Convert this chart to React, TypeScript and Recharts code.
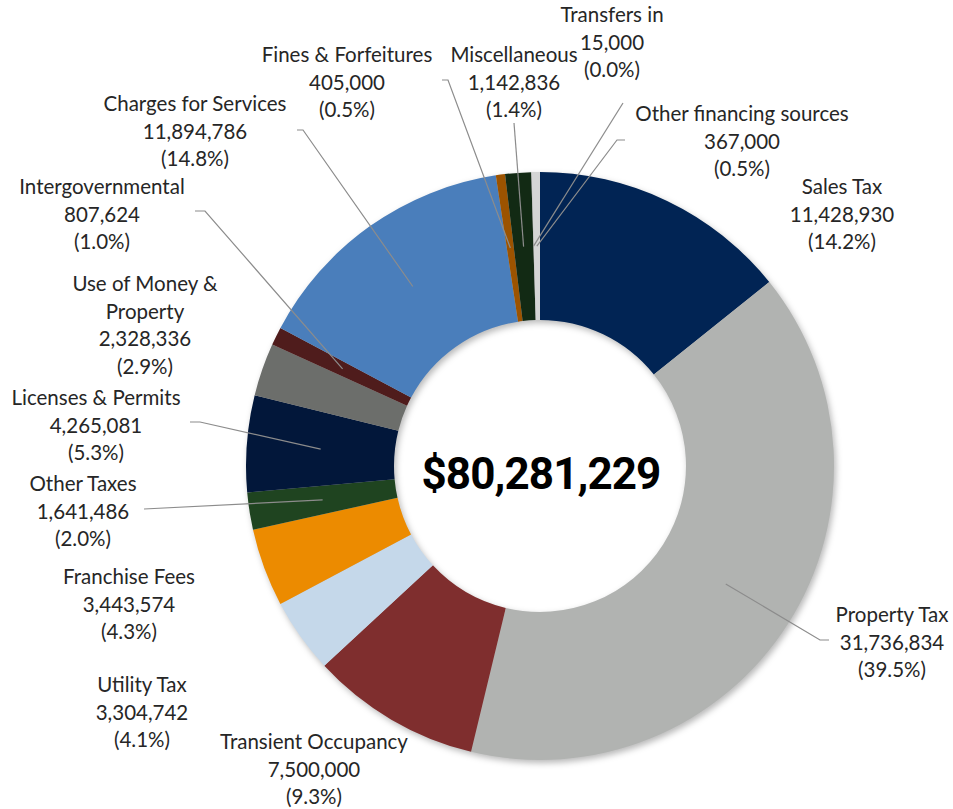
import React from 'react';
import { PieChart, Pie, Cell } from 'recharts';

const categories = [
  'Sales Tax',
  'Property Tax',
  'Transient Occupancy',
  'Utility Tax',
  'Franchise Fees',
  'Other Taxes',
  'Licenses & Permits',
  'Use of Money & Property',
  'Intergovernmental',
  'Charges for Services',
  'Fines & Forfeitures',
  'Miscellaneous',
  'Transfers in',
  'Other financing sources',
];

const amounts = [
  11428930, 31736834, 7500000, 3304742, 3443574, 1641486, 4265081,
  2328336, 807624, 11894786, 405000, 1142836, 15000, 367000,
];

const colors = [
  '#012454', '#B1B3B1', '#7F2E2E', '#C5D8EA', '#EC8B00', '#1F4420', '#02173A',
  '#6C6E6B', '#4F1C1C', '#4A7EBB', '#9C5300', '#122A14', '#A0A0A0', '#D4D5D5',
];

const total = amounts.reduce((a, b) => a + b, 0);

const data = categories.map((name, i) => ({ name, value: amounts[i] }));

// label placement: text center x, first line y, optional leader line elbow/end
type LabelPos = { x: number; y: number; lines?: string[]; elbow?: [number, number]; end?: [number, number] };
const labelPos: LabelPos[] = [
  { x: 842, y: 186 },
  { x: 892, y: 614, elbow: [820, 640], end: [829, 640] },
  { x: 314, y: 741 },
  { x: 142, y: 684 },
  { x: 129, y: 576 },
  { x: 83, y: 483, elbow: [144, 509], end: [144, 509] },
  { x: 96, y: 397, elbow: [200, 422], end: [190, 422] },
  { x: 145, y: 283, lines: ['Use of Money &', 'Property'] },
  { x: 102, y: 186, elbow: [205, 211], end: [195, 211] },
  { x: 195, y: 103, elbow: [303, 130], end: [297, 130] },
  { x: 347, y: 54, elbow: [448, 80], end: [442, 80] },
  { x: 514, y: 54, elbow: [514, 123], end: [514, 123] },
  { x: 612, y: 14, elbow: [623, 103], end: [623, 103] },
  { x: 742, y: 113, elbow: [617, 140], end: [625, 140] },
];

const RAD = Math.PI / 180;
const LINE_H = 27.5;

const renderLabel = (props: any) => {
  const { cx, cy, midAngle, innerRadius, outerRadius, index, value, name } = props;
  const pos = labelPos[index];
  const textLines = [...(pos.lines || [name]), value.toLocaleString('en-US'), `(${((value / total) * 100).toFixed(1)}%)`];
  const r = (innerRadius + outerRadius) / 2;
  const sx = cx + r * Math.cos(-midAngle * RAD);
  const sy = cy + r * Math.sin(-midAngle * RAD);
  return (
    <g key={`lbl-${index}`}>
      {pos.elbow && (
        <polyline
          points={`${sx},${sy} ${pos.elbow[0]},${pos.elbow[1]} ${pos.end![0]},${pos.end![1]}`}
          fill="none"
          stroke="#8C8C8C"
          strokeWidth={1.2}
        />
      )}
      {textLines.map((t, k) => (
        <text
          key={k}
          x={pos.x}
          y={pos.y + k * LINE_H}
          textAnchor="middle"
          dominantBaseline="central"
          fontFamily="Lato, sans-serif"
          fontSize={20.5}
          fill="#262626"
        >
          {t}
        </text>
      ))}
    </g>
  );
};

export default function App() {
  return (
    <div style={{ position: 'absolute', left: 0, top: 0, width: 953, height: 809, background: '#fff' }}>
      <style>{'g:has(> .recharts-pie-sector){filter: drop-shadow(2px 3px 3px rgba(0,0,0,0.28));}'}</style>
      <PieChart width={953} height={809} margin={{ top: 0, right: 0, bottom: 0, left: 0 }}>
        <Pie
          data={data}
          dataKey="value"
          nameKey="name"
          cx={540}
          cy={466}
          innerRadius={146}
          outerRadius={294}
          startAngle={90}
          endAngle={-270}
          stroke="none"
          label={renderLabel}
          labelLine={false}
          isAnimationActive={false}
        >
          {data.map((d, i) => (
            <Cell key={d.name} fill={colors[i]} />
          ))}
        </Pie>
        <text
          x={541}
          y={474}
          textAnchor="middle"
          dominantBaseline="central"
          fontFamily="Roboto, sans-serif"
          fontWeight="bold"
          fontSize={44}
          letterSpacing={-0.9}
          fill="#000"
        >
          ${total.toLocaleString('en-US')}
        </text>
      </PieChart>
    </div>
  );
}
